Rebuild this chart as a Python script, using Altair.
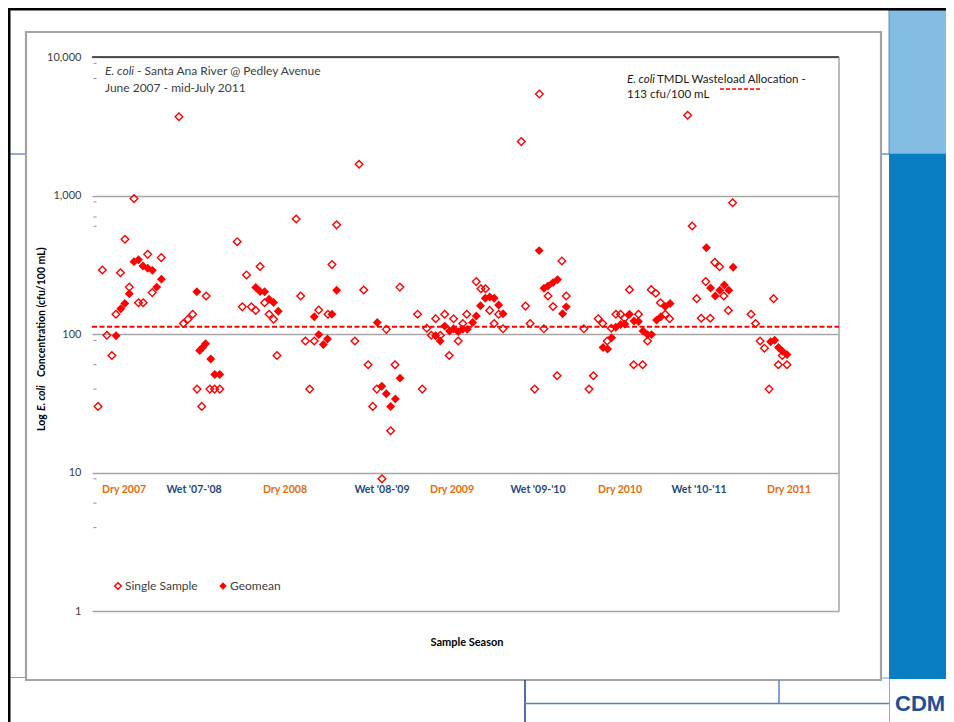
import altair as alt
import pandas as pd

# ---------------- data ----------------
single_years = [
    2007.420, 2007.446, 2007.473, 2007.503, 2007.527, 2007.554, 2007.581, 2007.607, 2007.635, 2007.662,
    2007.690, 2007.717, 2007.744, 2007.798, 2007.904, 2007.930, 2007.958, 2007.986, 2008.012, 2008.040,
    2008.067, 2008.089, 2008.117, 2008.148,
    2008.252, 2008.283, 2008.308, 2008.337, 2008.363, 2008.389, 2008.416, 2008.443, 2008.470, 2008.490,
    2008.605, 2008.632, 2008.660, 2008.686, 2008.713, 2008.740, 2008.795, 2008.819, 2008.847,
    2008.956, 2008.981, 2009.009, 2009.035, 2009.063, 2009.087, 2009.118, 2009.144, 2009.170, 2009.196,
    2009.225, 2009.331, 2009.359,
    2009.386, 2009.413, 2009.439, 2009.467, 2009.493, 2009.520, 2009.546, 2009.574, 2009.601, 2009.625,
    2009.682, 2009.710, 2009.737, 2009.762, 2009.789, 2009.816, 2009.842,
    2009.951, 2009.976, 2010.004, 2010.031, 2010.059, 2010.086, 2010.111, 2010.141, 2010.165, 2010.194,
    2010.220,
    2010.325, 2010.356, 2010.382, 2010.411, 2010.438, 2010.465, 2010.489, 2010.517, 2010.545, 2010.569,
    2010.598, 2010.623, 2010.652, 2010.677, 2010.706, 2010.728, 2010.755, 2010.783, 2010.812, 2010.838,
    2010.946, 2010.973, 2011.000, 2011.027, 2011.054, 2011.081, 2011.108, 2011.137, 2011.162, 2011.189,
    2011.215,
    2011.325, 2011.352, 2011.379, 2011.405, 2011.433, 2011.460, 2011.488, 2011.512, 2011.540,
]
single_values = [
    30, 290, 98, 70, 139, 277, 483, 218, 950, 168,
    168, 376, 199, 356, 3700, 119, 128, 139, 40, 30,
    188, 40, 40, 40,
    464, 157, 267, 157, 148, 307, 168, 139, 128, 70,
    677, 188, 89, 40, 89, 149, 139, 317, 614,
    89, 1680, 208, 60, 30, 40, 9, 108, 20, 60, 218, 139, 40,
    110, 98, 129, 98, 139, 70, 129, 89, 119, 139, 239, 212, 212, 148, 119, 139, 109,
    2450, 159, 119, 40, 5400, 109, 188, 158, 50, 337, 188,
    109, 40, 50, 129, 119, 89, 110, 139, 139, 130, 209, 60, 139, 60, 89, 209, 197, 168, 139, 129,
    3800, 602, 180, 130, 239, 130, 329, 306, 188, 148, 887,
    139, 119, 89, 79, 40, 180, 60, 70, 60,
]

geo_years = [
    2007.528, 2007.556, 2007.580, 2007.607, 2007.635, 2007.662, 2007.689, 2007.717, 2007.745, 2007.771,
    2007.799,
    2008.011, 2008.028, 2008.045, 2008.063, 2008.094, 2008.118, 2008.148,
    2008.363, 2008.389, 2008.416, 2008.443, 2008.470, 2008.498,
    2008.713, 2008.740, 2008.767, 2008.792, 2008.819, 2008.847,
    2009.090, 2009.117, 2009.144, 2009.170, 2009.198, 2009.226,
    2009.439, 2009.466, 2009.493, 2009.522, 2009.546, 2009.574, 2009.601, 2009.628, 2009.660, 2009.682,
    2009.707, 2009.736, 2009.762, 2009.789, 2009.816, 2009.842,
    2010.058, 2010.087, 2010.111, 2010.141, 2010.168, 2010.198, 2010.220,
    2010.440, 2010.467, 2010.491, 2010.516, 2010.545, 2010.570, 2010.598, 2010.625, 2010.652, 2010.679,
    2010.706, 2010.730, 2010.760, 2010.786, 2010.812, 2010.841,
    2011.058, 2011.083, 2011.111, 2011.138, 2011.165, 2011.192, 2011.218,
    2011.442, 2011.466, 2011.489, 2011.513, 2011.540,
]
geo_values = [
    97, 152, 166, 195, 333, 344, 310, 298, 288, 218, 249,
    202, 76, 80, 85, 66, 51, 51,
    217, 203, 202, 178, 169, 146,
    133, 99, 84, 92, 139, 207,
    121, 42, 37, 30, 34, 48,
    97, 89, 114, 105, 109, 104, 108, 108, 121, 135, 160, 181, 185, 181, 162, 140,
    400, 214, 222, 235, 247, 140, 157,
    80, 78, 94, 112, 117, 118, 139, 124, 123, 105, 99, 99, 126, 133, 158, 166,
    420, 215, 188, 207, 226, 207, 303,
    88, 90, 80, 75, 71,
]

season_labels = ["Dry 2007", "Wet '07-'08", "Dry 2008", "Wet '08-'09", "Dry 2009",
                 "Wet '09-'10", "Dry 2010", "Wet '10-'11", "Dry 2011"]
season_centers = [2007.576, 2007.994, 2008.538, 2009.118, 2009.537,
                  2010.051, 2010.542, 2011.014, 2011.552]

tmdl_value = [113]
y_ticks = [1, 10, 100, 1000, 10000]
minor_ticks = [9000, 7000, 900, 700, 600, 90, 60, 40, 9, 6, 4]
x_domain = [2007.384, 2011.851]

# ---------------- layout helpers (decoration only) ----------------
W, H = 747, 554
X0, Y0 = 92, 57   # page position of the plot area's top-left corner
SVG_W, SVG_H = 938, 714
FONT = "Lato"
RED = "#FF0000"


def px(x):
    return x - X0


def py(y):
    return y - Y0


one = pd.DataFrame({"k": [1]})


def rect(x1, y1, x2, y2, **kw):
    return alt.Chart(one).mark_rect(**kw).encode(
        x=alt.value(px(x1)), x2=alt.value(px(x2)),
        y=alt.value(py(y1)), y2=alt.value(py(y2)))


def line(x1, y1, x2, y2, color, width=1.0):
    return alt.Chart(one).mark_rule(color=color, strokeWidth=width).encode(
        x=alt.value(px(x1)), x2=alt.value(px(x2)),
        y=alt.value(py(y1)), y2=alt.value(py(y2)))


def label(x, y, s, size=11, color="#404040", weight="normal", style="normal",
          align="left", angle=0, font=FONT):
    kw = dict(text=s, fontSize=size, color=color, fontWeight=weight, fontStyle=style,
              align=align, baseline="middle", font=font)
    if angle:
        kw["angle"] = angle
    return alt.Chart(one).mark_text(**kw).encode(x=alt.value(px(x)), y=alt.value(py(y)))


x_scale = alt.Scale(domain=x_domain, nice=False, zero=False)
y_scale = alt.Scale(type="log", domain=[1, 10000], nice=False)
y_axis = alt.Axis(values=y_ticks, format=",", labelFont=FONT, labelFontSize=11,
                  labelColor="#404040", labelPadding=11, ticks=False, domain=False,
                  grid=True, gridColor="#A6A6A6", gridWidth=1.5)

layers = []

# slide decorations
layers.append(rect(889, 10, 954, 154, fill="#84BDE4", stroke="#5B8CCB", strokeWidth=1))
layers.append(rect(889, 154, 954, 679, fill="#0A7EC2"))
layers.append(line(8, 154, 26, 154, "#2B5AA6", 1))
layers.append(line(881, 154, 889, 154, "#2B5AA6", 1))
layers.append(line(8, 677.5, 26, 677.5, "#7A9FD8", 1))
layers.append(line(881, 678, 889, 678, "#7A9FD8", 1))
layers.append(rect(26, 32, 881, 680, fillOpacity=0, stroke="#A3A3A3", strokeWidth=2.2))
layers.append(rect(8, 8, 954, 10.5, fill="#000000"))
layers.append(rect(8, 8, 10.5, 722, fill="#000000"))
layers.append(line(525, 680, 525, 722, "#1F3C8C", 1.5))
layers.append(line(525, 703.5, 889, 703.5, "#5580CC", 1.5))
layers.append(line(779, 680, 779, 703.5, "#5B80C8", 1.5))
layers.append(line(889.5, 679, 889.5, 722, "#8BA6D8", 1))
layers.append(label(895, 704, "CDM", size=22, color="#1E4E93", weight="bold",
                    font="Liberation Sans"))

# data layers
single_df = pd.DataFrame({"year": single_years, "ecoli": single_values})
geo_df = pd.DataFrame({"year": geo_years, "ecoli": geo_values})

layers.append(
    alt.Chart(single_df).mark_point(shape="diamond", filled=False, color=RED, size=58,
                                    strokeWidth=1.4, opacity=1).encode(
        x=alt.X("year:Q", scale=x_scale, axis=None),
        y=alt.Y("ecoli:Q", scale=y_scale, axis=y_axis, title=None)))

# minor tick dashes on the left edge
layers.append(
    alt.Chart(pd.DataFrame({"v": minor_ticks})).mark_rule(color="#8C8C8C", strokeWidth=1).encode(
        x=alt.value(1.5), x2=alt.value(4.5),
        y=alt.Y("v:Q", scale=y_scale, axis=y_axis, title=None)))

# top border (10,000) and right border
layers.append(
    alt.Chart(pd.DataFrame({"v": [max(y_ticks)]})).mark_rule(color="#262626", strokeWidth=1.5).encode(
        x=alt.value(0), x2=alt.value(W),
        y=alt.Y("v:Q", scale=y_scale, axis=y_axis, title=None)))
layers.append(
    alt.Chart(one).mark_rule(color="#A6A6A6", strokeWidth=1.5).encode(
        x=alt.value(W), y=alt.value(0), y2=alt.value(H)))

# TMDL dashed line
layers.append(
    alt.Chart(pd.DataFrame({"v": tmdl_value})).mark_rule(color=RED, strokeWidth=2,
                                                         strokeDash=[5, 2.5]).encode(
        x=alt.value(0), x2=alt.value(W),
        y=alt.Y("v:Q", scale=y_scale, axis=y_axis, title=None)))

layers.append(
    alt.Chart(geo_df).mark_point(shape="diamond", filled=True, color=RED, size=80,
                                 opacity=1).encode(
        x=alt.X("year:Q", scale=x_scale, axis=None),
        y=alt.Y("ecoli:Q", scale=y_scale, axis=y_axis, title=None)))

# season labels
season_df = pd.DataFrame({"label": season_labels, "year": season_centers,
                          "kind": [s.split(" ")[0] for s in season_labels]})
layers.append(
    alt.Chart(season_df).mark_text(font=FONT, fontSize=10.5, fontWeight="bold",
                                   baseline="middle").encode(
        x=alt.X("year:Q", scale=x_scale, axis=None),
        y=alt.value(py(490)),
        text="label:N",
        color=alt.Color("kind:N", scale=alt.Scale(domain=["Dry", "Wet"],
                                                  range=["#E46C0A", "#1F497D"]),
                        legend=None)))

# chart title (inside the plot)
layers.append(label(105, 71, "E. coli", size=12, style="italic"))
layers.append(label(137, 71, "- Santa Ana River @ Pedley Avenue", size=12))
layers.append(label(105, 88, "June 2007 - mid-July 2011", size=12))

# TMDL annotation
layers.append(label(627, 80, "E. coli", size=11.5, style="italic", color="#1A1A1A"))
layers.append(label(657, 80, "TMDL Wasteload Allocation -", size=11.5, color="#1A1A1A"))
layers.append(label(627, 95, "113 cfu/100 mL", size=11.5, color="#1A1A1A"))
layers.append(
    alt.Chart(one).mark_rule(color=RED, strokeWidth=1.5, strokeDash=[4, 2]).encode(
        x=alt.value(px(720)), x2=alt.value(px(762)), y=alt.value(py(89))))

# legend
layers.append(
    alt.Chart(one).mark_point(shape="diamond", filled=False, color=RED, size=45,
                              strokeWidth=1.4, opacity=1).encode(
        x=alt.value(px(118)), y=alt.value(py(586))))
layers.append(label(125, 586, "Single Sample", size=12))
layers.append(
    alt.Chart(one).mark_point(shape="diamond", filled=True, color=RED, size=55,
                              opacity=1).encode(
        x=alt.value(px(223)), y=alt.value(py(586))))
layers.append(label(230, 586, "Geomean", size=12))

# axis titles
layers.append(label(467, 643, "Sample Season", size=11, color="#000000", weight="bold",
                    align="center"))
layers.append(label(42, 431, "Log", size=10.5, color="#000000", weight="bold", angle=270))
layers.append(label(42, 411, "E. coli", size=10.5, color="#000000", weight="bold",
                    style="italic", angle=270))
layers.append(label(42, 377, "Concentration (cfu/100 mL)", size=10.5, color="#000000",
                    weight="bold", angle=270))

chart = alt.layer(*layers).properties(
    width=W, height=H,
    padding={"left": X0 - 8, "top": Y0 - 8, "right": SVG_W - (X0 - 8) - W,
             "bottom": SVG_H - (Y0 - 8) - H},
    autosize=alt.AutoSizeParams(type="none"),
    background="#FFFFFF",
).configure_view(stroke=None)

chart.save("out.html", embed_options={"renderer": "svg", "actions": False})
